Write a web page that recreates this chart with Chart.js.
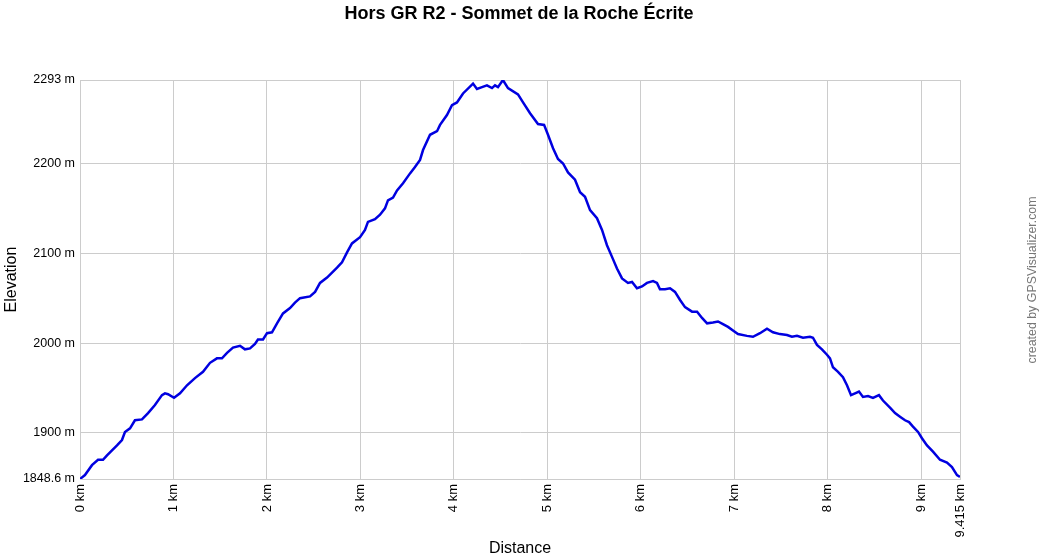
<!DOCTYPE html>
<html>
<head>
<meta charset="utf-8">
<title>Hors GR R2 - Sommet de la Roche Écrite</title>
<script src="https://cdn.jsdelivr.net/npm/chart.js@4/dist/chart.umd.min.js"></script>
<style>
    html, body { margin: 0; padding: 0; background: #fff; }
    #wrap { width: 1040px; height: 560px; }
</style>
</head>
<body>
<div id="wrap"><canvas id="graph_profile" width="1040" height="560"></canvas></div>
<script>
    // distance (km) / elevation (m)
    var distances = [
        0, 0.053, 0.128, 0.193, 0.246, 0.289, 0.396, 0.449, 0.481, 0.535, 0.588, 0.663, 0.728, 0.802, 0.877, 0.909, 0.942,
        1.006, 1.070, 1.145, 1.230, 1.316, 1.391, 1.465, 1.519, 1.573, 1.637, 1.712, 1.765, 1.819, 1.872, 1.904, 1.958,
        2.001, 2.054, 2.108, 2.172, 2.247, 2.300, 2.354, 2.461, 2.515, 2.568, 2.643, 2.750, 2.803, 2.857, 2.910, 2.996,
        3.049, 3.081, 3.156, 3.210, 3.263, 3.295, 3.349, 3.392, 3.456, 3.531, 3.584, 3.638, 3.670, 3.745, 3.820, 3.852, 3.926, 3.980,
        4.033, 4.098, 4.205, 4.247, 4.301, 4.354, 4.408, 4.440, 4.472, 4.525, 4.579, 4.686, 4.740, 4.815, 4.900, 4.965,
        5.007, 5.061, 5.114, 5.168, 5.221, 5.296, 5.350, 5.403, 5.457, 5.531, 5.585, 5.638, 5.692, 5.745, 5.799, 5.863, 5.906, 5.959,
        6.013, 6.066, 6.131, 6.173, 6.205, 6.259, 6.313, 6.366, 6.420, 6.473, 6.548, 6.602, 6.655, 6.709, 6.772, 6.826, 6.879, 6.933, 6.986,
        7.040, 7.136, 7.200, 7.275, 7.350, 7.414, 7.489, 7.564, 7.617, 7.671, 7.735, 7.810, 7.842, 7.885, 7.938, 7.992,
        8.024, 8.056, 8.110, 8.163, 8.206, 8.249, 8.292, 8.334, 8.377, 8.431, 8.484, 8.548, 8.591, 8.666, 8.720, 8.773, 8.827, 8.870, 8.912, 8.966,
        9.008, 9.062, 9.126, 9.201, 9.276, 9.329, 9.383, 9.415
    ];
    var elevations = [
        1848.6, 1853, 1864, 1870, 1870, 1875, 1886, 1892, 1901, 1905, 1914, 1915, 1922, 1931, 1942, 1944, 1943,
        1939, 1944, 1953, 1961, 1968, 1978, 1983, 1983, 1989, 1995, 1997, 1993, 1994, 1999, 2004, 2004,
        2011, 2012, 2022, 2033, 2039, 2045, 2050, 2052, 2057, 2067, 2073, 2084, 2090, 2101, 2111, 2118,
        2126, 2135, 2138, 2143, 2150, 2159, 2162, 2170, 2178, 2189, 2196, 2204, 2215, 2232, 2236, 2243, 2254, 2265,
        2268, 2278, 2289, 2283, 2285, 2287, 2284, 2287, 2285, 2293, 2284, 2277, 2268, 2256, 2244, 2243,
        2232, 2217, 2205, 2200, 2190, 2182, 2168, 2163, 2148, 2139, 2126, 2109, 2096, 2083, 2072, 2067, 2068, 2061,
        2063, 2067, 2069, 2067, 2060, 2060, 2061, 2057, 2048, 2040, 2035, 2035, 2028, 2022, 2023, 2024, 2021, 2018, 2014,
        2010, 2008, 2007, 2011, 2016, 2012, 2010, 2009, 2007, 2008, 2006, 2007, 2006, 1998, 1993, 1987,
        1983, 1973, 1968, 1962, 1953, 1942, 1944, 1946, 1940, 1941, 1939, 1942, 1936, 1928, 1922, 1918, 1914, 1912, 1907, 1901,
        1894, 1886, 1879, 1870, 1867, 1862, 1853, 1851
    ];
    var xTicks = [0, 1, 2, 3, 4, 5, 6, 7, 8, 9, 9.415];
    var yTicks = [1848.6, 1900, 2000, 2100, 2200, 2293];

    var FONT = '"Liberation Sans", Arial, sans-serif';
    var GRID = '#cccccc';

    function buildPoints() {
        var pts = [];
        for (var i = 0; i < distances.length; i++) {
            pts.push({ x: distances[i], y: elevations[i] });
        }
        return pts;
    }

    function drawText(ctx, text, x, y, font, color, angle) {
        ctx.save();
        ctx.translate(x, y);
        if (angle) {
            ctx.rotate(angle);
        }
        ctx.font = font;
        ctx.fillStyle = color;
        ctx.textAlign = 'center';
        ctx.textBaseline = 'middle';
        ctx.fillText(text, 0, 0);
        ctx.restore();
    }

    // title centred on the whole picture + credit on the right edge
    var textPlugin = {
        id: 'texts',
        afterDraw: function (chart) {
            var ctx = chart.ctx;
            drawText(ctx, 'Hors GR R2 - Sommet de la Roche Écrite', 519, 14, 'bold 18px ' + FONT, '#000000', 0);
            drawText(ctx, 'created by GPSVisualizer.com', 1033, 280, '12.4px ' + FONT, '#777777', -Math.PI / 2);
        }
    };

    var bgPlugin = {
        id: 'bg',
        beforeDraw: function (chart) {
            var ctx = chart.ctx;
            ctx.save();
            ctx.fillStyle = '#ffffff';
            ctx.fillRect(0, 0, chart.width, chart.height);
            ctx.restore();
        }
    };

    var ctx = document.getElementById('graph_profile').getContext('2d');
    var profileChart = new Chart(ctx, {
        type: 'line',
        data: {
            datasets: [{
                data: buildPoints(),
                borderColor: '#0000e0',
                borderWidth: 2.5,
                pointRadius: 0,
                tension: 0,
                fill: false
            }]
        },
        options: {
            responsive: false,
            animation: false,
            events: [],
            layout: { padding: { left: 0, right: 80, top: 80, bottom: 0 } },
            plugins: {
                legend: { display: false },
                tooltip: { enabled: false },
                title: { display: false }
            },
            scales: {
                x: {
                    type: 'linear',
                    min: 0,
                    max: 9.415,
                    afterBuildTicks: function (scale) {
                        scale.ticks = xTicks.map(function (v) { return { value: v }; });
                    },
                    afterFit: function (scale) { scale.height = 81; },
                    ticks: {
                        autoSkip: false,
                        minRotation: 90,
                        maxRotation: 90,
                        padding: 5,
                        color: '#000',
                        font: { family: FONT, size: 13 },
                        callback: function (v) { return v + ' km'; }
                    },
                    grid: { color: GRID, drawTicks: false },
                    border: { color: GRID },
                    title: {
                        display: true,
                        text: 'Distance',
                        color: '#000',
                        font: { family: FONT, size: 16 },
                        padding: { top: 0, bottom: 2 }
                    }
                },
                y: {
                    min: 1848.6,
                    max: 2293,
                    afterBuildTicks: function (scale) {
                        scale.ticks = yTicks.map(function (v) { return { value: v }; });
                    },
                    afterFit: function (scale) { scale.width = 80; },
                    ticks: {
                        padding: 5,
                        color: '#000',
                        font: { family: FONT, size: 12.5 },
                        callback: function (v) { return v + ' m'; }
                    },
                    grid: { color: GRID, drawTicks: false },
                    border: { color: GRID },
                    title: {
                        display: true,
                        text: 'Elevation',
                        color: '#000',
                        font: { family: FONT, size: 16 },
                        padding: { top: 2, bottom: 0 }
                    }
                }
            }
        },
        plugins: [bgPlugin, textPlugin]
    });
</script>
</body>
</html>
